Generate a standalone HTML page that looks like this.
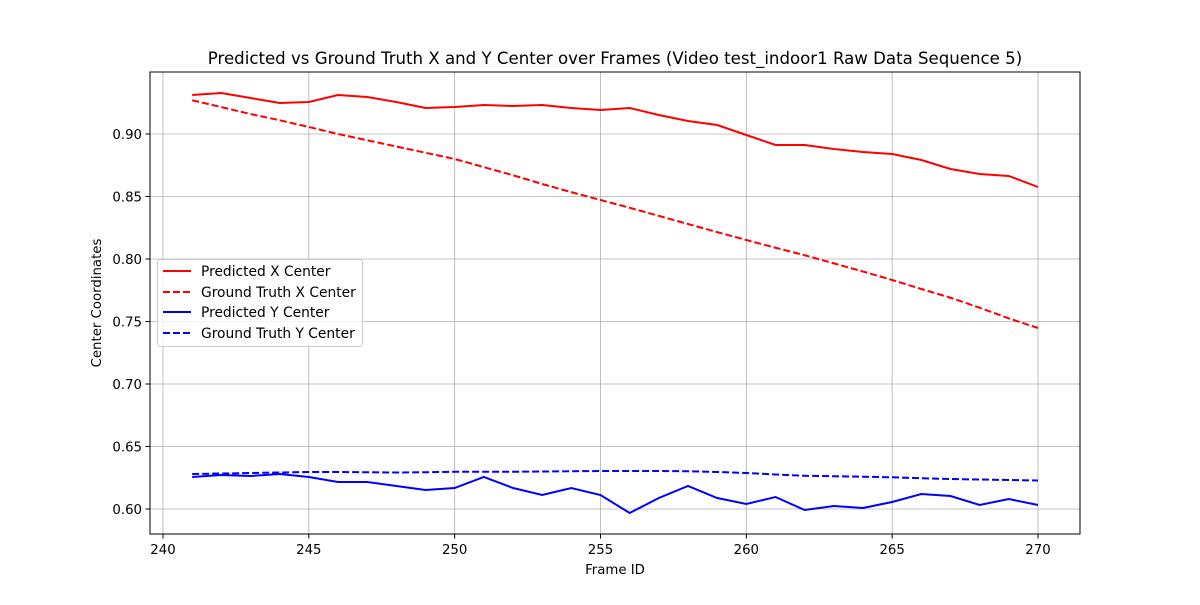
<!DOCTYPE html>
<html><head><meta charset="utf-8"><style>
body{margin:0;background:#fff;}
svg text{font-family:"DejaVu Sans","Liberation Sans",sans-serif;fill:#000;}
</style></head><body>
<svg id="chart" width="1200" height="600" xmlns="http://www.w3.org/2000/svg">
<rect width="1200" height="600" fill="#fff"/>
<g id="grid"></g>
<g id="series"></g>
<rect x="150" y="72" width="930" height="462" fill="none" stroke="#000" stroke-width="1"/>
<g id="ticks"></g>
<text x="615" y="64" text-anchor="middle" font-size="16.6">Predicted vs Ground Truth X and Y Center over Frames (Video test_indoor1 Raw Data Sequence 5)</text>
<text x="615" y="574" text-anchor="middle" font-size="13.3">Frame ID</text>
<text transform="translate(101,303) rotate(-90)" text-anchor="middle" font-size="13.3">Center Coordinates</text>
<g>
<rect x="157.5" y="259.5" width="205" height="87" rx="3" fill="#fff" fill-opacity="0.8" stroke="#ccc"/>
<g><line x1="163" y1="271" x2="191" y2="271" stroke="red" stroke-width="2"/><text x="201" y="276" font-size="13.8">Predicted X Center</text></g>
<g><line x1="163" y1="292" x2="191" y2="292" stroke="red" stroke-width="2" stroke-dasharray="7,3"/><text x="201" y="297" font-size="13.8">Ground Truth X Center</text></g>
<g><line x1="163" y1="312" x2="191" y2="312" stroke="blue" stroke-width="2"/><text x="201" y="317" font-size="13.8">Predicted Y Center</text></g>
<g><line x1="163" y1="333" x2="191" y2="333" stroke="blue" stroke-width="2" stroke-dasharray="7,3"/><text x="201" y="338" font-size="13.8">Ground Truth Y Center</text></g>
</g>
</svg>
<script>
const frames=[241,242,243,244,245,246,247,248,249,250,251,252,253,254,255,256,257,258,259,260,261,262,263,264,265,266,267,268,269,270];
const predX=[0.9312,0.9328,0.9288,0.9248,0.9256,0.9312,0.9296,0.9256,0.9208,0.9216,0.9232,0.9224,0.9232,0.9208,0.9192,0.9208,0.9152,0.9104,0.9072,0.8992,0.8912,0.8912,0.888,0.8856,0.884,0.8792,0.872,0.868,0.8664,0.8576];
const gtX=[0.927,0.9215,0.916,0.911,0.9056,0.900,0.895,0.890,0.885,0.880,0.8735,0.867,0.860,0.8535,0.8472,0.841,0.8345,0.828,0.8215,0.8152,0.809,0.803,0.7965,0.790,0.7832,0.776,0.769,0.761,0.7525,0.7448];
const predY=[0.6256,0.6272,0.6264,0.628,0.6256,0.6216,0.6216,0.6184,0.6152,0.6168,0.6256,0.6168,0.6112,0.6168,0.6112,0.5968,0.6088,0.6184,0.6088,0.604,0.6096,0.5992,0.6024,0.6008,0.6056,0.612,0.6104,0.6032,0.608,0.6032];
const gtY=[0.628,0.6284,0.6288,0.6292,0.6296,0.6296,0.6294,0.6292,0.6294,0.6298,0.6298,0.6298,0.63,0.6302,0.6304,0.6304,0.6304,0.6302,0.6296,0.6288,0.6276,0.6266,0.6262,0.6258,0.6254,0.6246,0.624,0.6236,0.6232,0.6228];
const xTicks=[240,245,250,255,260,265,270];
const yTicks=[0.60,0.65,0.70,0.75,0.80,0.85,0.90];
const NS="http://www.w3.org/2000/svg";
const xs=f=>163+(f-240)*875/30;
const ys=v=>509-(v-0.6)*1250;
const grid=document.getElementById('grid'),ticks=document.getElementById('ticks'),series=document.getElementById('series');
function mk(tag,attrs,parent){const e=document.createElementNS(NS,tag);for(const k in attrs)e.setAttribute(k,attrs[k]);parent.appendChild(e);return e;}
xTicks.forEach(t=>{const x=xs(t);
 const g=mk('line',{x1:x,y1:72,x2:x,y2:534,stroke:'#b0b0b0','stroke-width':0.8},grid);
 
 
 const tk=mk('line',{x1:x,y1:534,x2:x,y2:538.5,stroke:'#000'},ticks);
 
 
 const tx=mk('text',{x:x,y:554,'text-anchor':'middle','font-size':13.3},ticks);tx.textContent=t;
 
 
});
yTicks.forEach(t=>{const y=ys(t);
 const g=mk('line',{x1:150,y1:y,x2:1080,y2:y,stroke:'#b0b0b0','stroke-width':0.8},grid);
 
 
 const tk=mk('line',{x1:145.5,y1:y,x2:150,y2:y,stroke:'#000'},ticks);
 
 
 const tx=mk('text',{x:142,y:y+5,'text-anchor':'end','font-size':13.3},ticks);tx.textContent=t.toFixed(2);
 
 
});
function line(vals,color,dash,name){
 const d=vals.map((v,i)=>(i?'L':'M')+xs(frames[i]).toFixed(2)+','+ys(v).toFixed(2)).join('');
 const p=mk('path',{d:d,fill:'none',stroke:color,'stroke-width':2},series);
 if(dash)p.setAttribute('stroke-dasharray','7,3');
 
 
}
line(predX,'red',false,'predicted-x-line');
line(gtX,'red',true,'ground-truth-x-line');
line(predY,'blue',false,'predicted-y-line');
line(gtY,'blue',true,'ground-truth-y-line');
</script>
</body></html>
